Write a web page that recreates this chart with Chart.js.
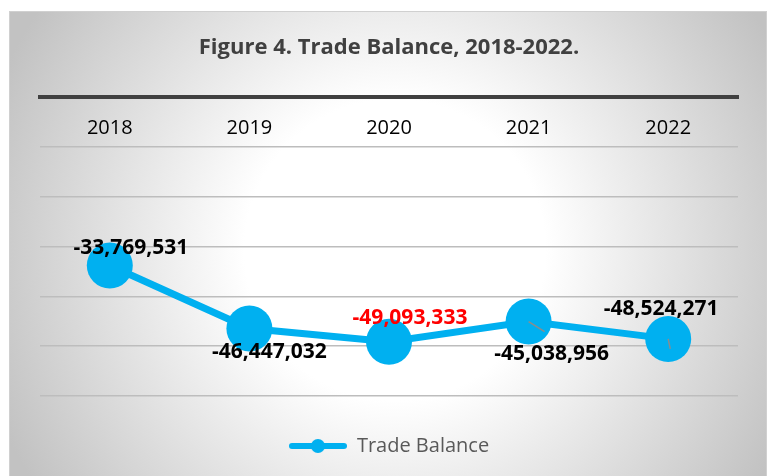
<!DOCTYPE html>
<html>
<head>
<meta charset="utf-8">
<script src="https://cdn.jsdelivr.net/npm/chart.js@4.4.1/dist/chart.umd.min.js"></script>
<style>
  body { margin: 0; background: #fff; }
  canvas { display: block; }
</style>
</head>
<body>
<canvas id="linechart" width="770" height="476"></canvas>
<script>
// data
const years = ['2018', '2019', '2020', '2021', '2022'];
const tradeBalance = [-33769531, -46447032, -49093333, -45038956, -48524271];
const yTicks = [0, -10000000, -20000000, -30000000, -40000000, -50000000, -60000000];

const blue = '#00B0F0';
const fontName = "'Open Sans', 'Liberation Sans', sans-serif";

// label placement relative to each marker (dx, dy) and colours
const labelShift = [[21, -17], [20, 23], [21, -24], [23, 32], [-7, -30]];
const labelColor = ['#000', '#000', '#FF0000', '#000', '#000'];
const leader = [null, null, null, [16, 10], [2, 10]];

function fmt(v) {
    return '-' + Math.abs(v).toLocaleString('en-US');
}

// legend symbol: line with a dot
function legendIcon() {
    let c = document.createElement('canvas');
    c.width = 58;
    c.height = 16;
    let g = c.getContext('2d');
    g.strokeStyle = blue;
    g.lineWidth = 6;
    g.lineCap = 'round';
    g.beginPath();
    g.moveTo(3, 8);
    g.lineTo(55, 8);
    g.stroke();
    g.fillStyle = blue;
    g.beginPath();
    g.arc(29, 8, 7, 0, Math.PI * 2);
    g.fill();
    return c;
}
const icon = legendIcon();

const backdrop = {
    id: 'backdrop',
    beforeDraw(chart) {
        let ctx = chart.ctx;
        ctx.save();
        ctx.fillStyle = '#fff';
        ctx.fillRect(0, 0, chart.width, chart.height);
        let grad = ctx.createRadialGradient(395, 250, 0, 395, 250, 430);
        grad.addColorStop(0, '#ffffff');
        grad.addColorStop(0.35, '#ffffff');
        grad.addColorStop(1, '#c2c2c2');
        ctx.fillStyle = grad;
        ctx.fillRect(9, 11, 758, 470);
        ctx.strokeStyle = '#d0d0d0';
        ctx.lineWidth = 1;
        ctx.strokeRect(9.5, 11.5, 757, 470);
        ctx.restore();
    }
};

const valueLabels = {
    id: 'valueLabels',
    afterDatasetsDraw(chart) {
        let ctx = chart.ctx;
        let pts = chart.getDatasetMeta(0).data;
        ctx.save();
        ctx.font = 'bold 21px ' + fontName;
        ctx.textAlign = 'center';
        ctx.textBaseline = 'middle';
        pts.forEach(function (p, i) {
            if (leader[i]) {
                ctx.strokeStyle = '#8c8c8c';
                ctx.lineWidth = 1.5;
                ctx.beginPath();
                ctx.moveTo(p.x, p.y);
                ctx.lineTo(p.x + leader[i][0], p.y + leader[i][1]);
                ctx.stroke();
            }
            ctx.fillStyle = labelColor[i];
            ctx.fillText(fmt(tradeBalance[i]), p.x + labelShift[i][0], p.y + labelShift[i][1]);
        });
        ctx.restore();
    }
};

var chartview = new Chart(document.getElementById('linechart').getContext('2d'), {
    type: 'line',
    data: {
        labels: years,
        datasets: [{
            label: 'Trade Balance',
            data: tradeBalance,
            borderColor: blue,
            backgroundColor: blue,
            borderWidth: 7,
            pointRadius: 23,
            pointHoverRadius: 23,
            pointBackgroundColor: blue,
            pointBorderWidth: 0,
            tension: 0
        }]
    },
    options: {
        responsive: false,
        animation: false,
        layout: { padding: { left: 40, right: 32, top: 10, bottom: 10 } },
        scales: {
            x: {
                position: { y: 0 },
                offset: true,
                grid: { display: false, drawTicks: false },
                border: { display: true, color: '#404040', width: 4 },
                ticks: {
                    padding: 19,
                    color: '#000',
                    font: { family: fontName, size: 20 }
                }
            },
            y: {
                min: yTicks[yTicks.length - 1],
                max: yTicks[0],
                afterBuildTicks(scale) {
                    scale.ticks = yTicks.map(v => ({ value: v }));
                },
                ticks: { display: false },
                border: { display: false },
                grid: {
                    drawTicks: false,
                    lineWidth: 1.5,
                    color: c => (c.tick && c.tick.value === 0) ? 'rgba(0,0,0,0)' : '#bdbdbd'
                }
            }
        },
        plugins: {
            title: {
                display: true,
                text: 'Figure 4. Trade Balance, 2018-2022.',
                color: '#404040',
                font: { family: fontName, size: 22, weight: 'bold' },
                padding: { top: 25, bottom: 36 }
            },
            legend: {
                position: 'bottom',
                labels: {
                    usePointStyle: true,
                    pointStyleWidth: 58,
                    boxHeight: 16,
                    color: '#595959',
                    font: { family: fontName, size: 20 },
                    padding: 40,
                    generateLabels(chart) {
                        let items = Chart.defaults.plugins.legend.labels.generateLabels(chart);
                        items.forEach(it => { it.pointStyle = icon; });
                        return items;
                    }
                }
            },
            tooltip: { enabled: false }
        }
    },
    plugins: [backdrop, valueLabels]
});
</script>
</body>
</html>
